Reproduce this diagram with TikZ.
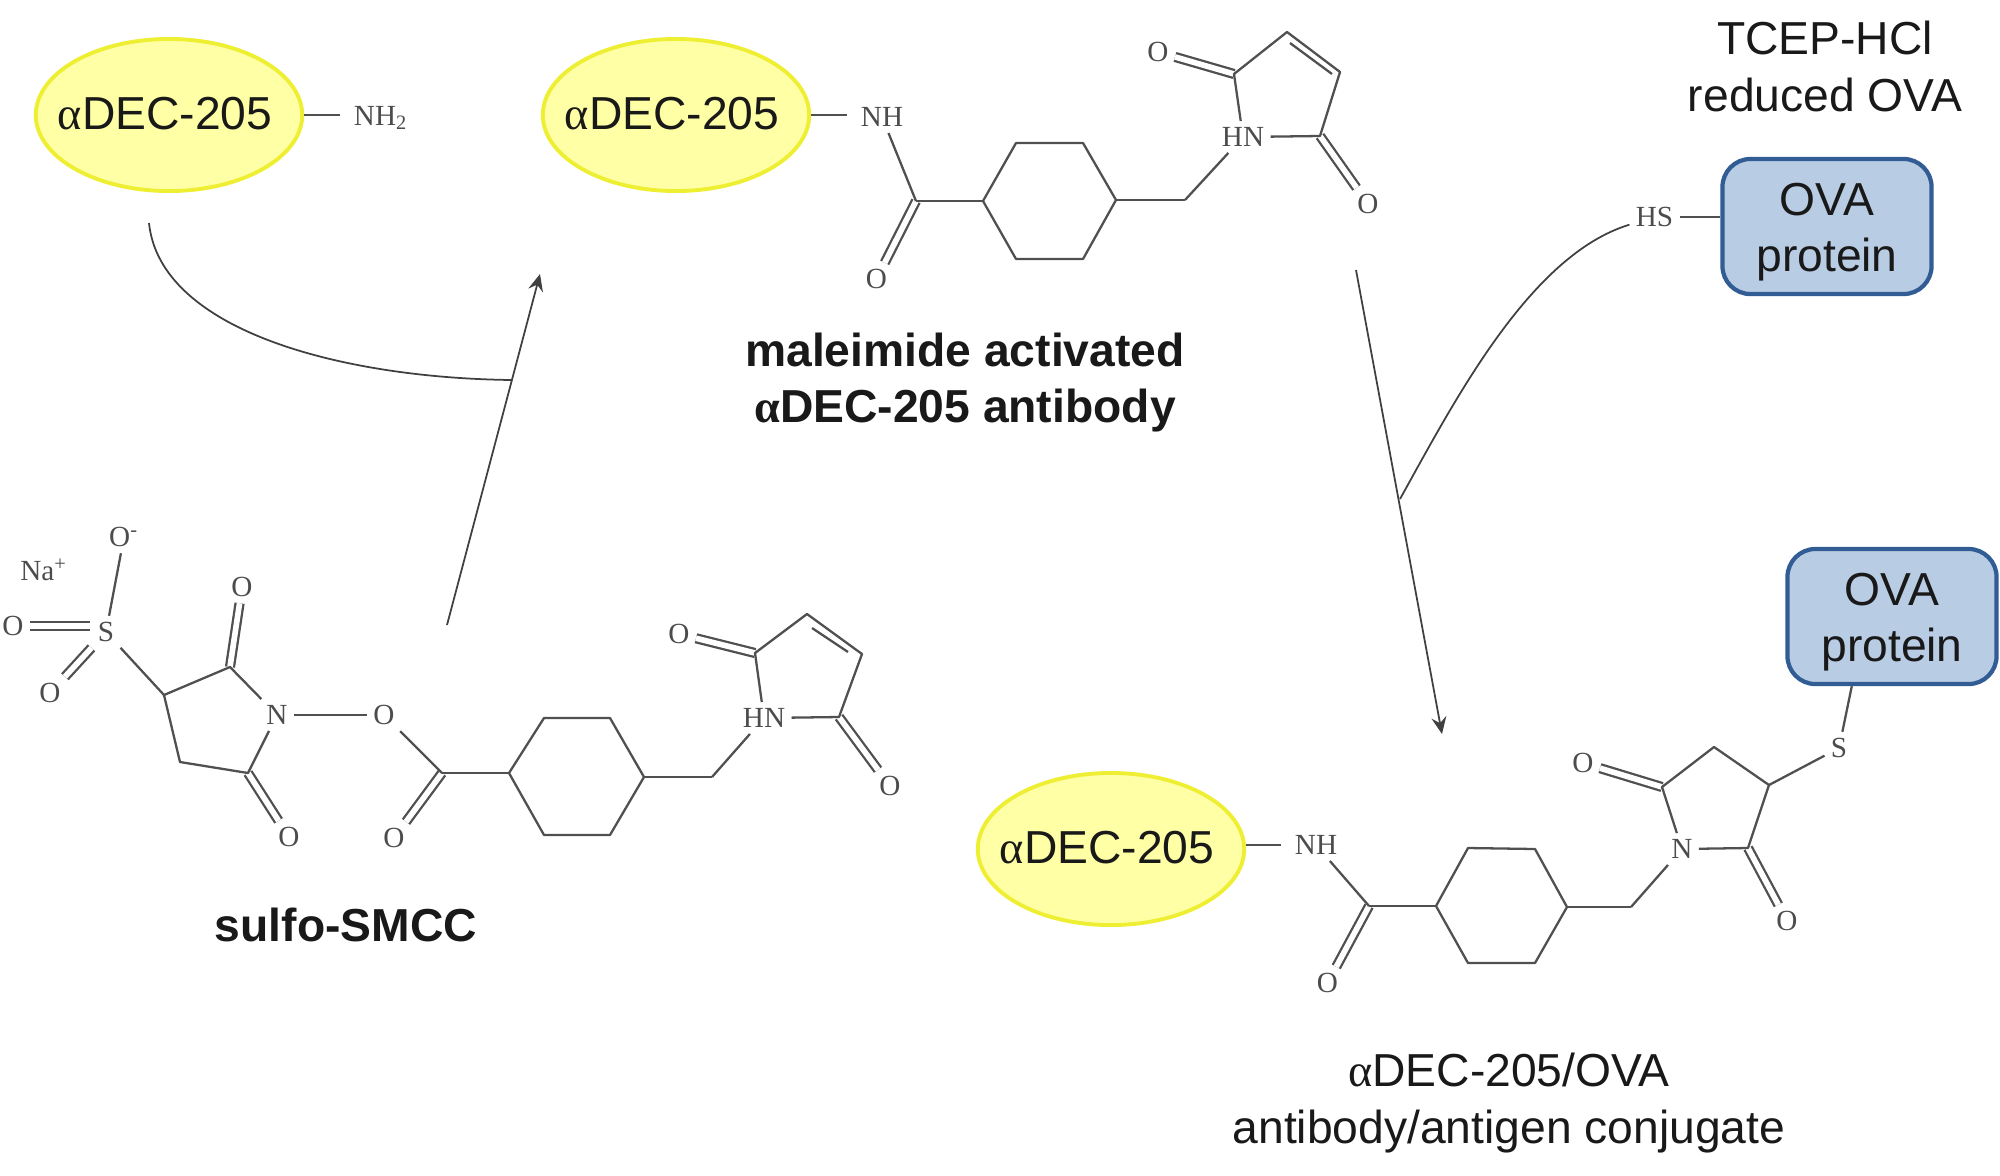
\documentclass[tikz,border=0pt]{standalone}
\usepackage{fontspec}
\setmainfont{Liberation Sans}
\newfontfamily\chemfont{Liberation Serif}
\usetikzlibrary{arrows.meta,shapes.geometric}
\definecolor{abfill}{HTML}{FFFFA6}
\definecolor{abdraw}{HTML}{EEEE33}
\definecolor{ovafill}{HTML}{B8CCE4}
\definecolor{ovadraw}{HTML}{315C94}
\definecolor{bondgray}{HTML}{505050}
\newcommand{\adec}{{\chemfont α}DEC-205}
\newcommand{\abtext}{\adec\hspace{.08cm}\rule[-.03cm]{0pt}{0pt}}
\newcommand{\ovatext}{\rule{0pt}{.43cm}OVA\\protein}
\tikzset{
	antibody/.style={ellipse,draw=abdraw,fill=abfill,line width=1.1pt,minimum width=2.66cm,minimum height=1.52cm,inner ysep=0pt,inner xsep=-.17cm,font=\fontsize{13.15}{16}\selectfont,text=black!90},
	ova/.style={rectangle,rounded corners=.28cm,draw=ovadraw,fill=ovafill,line width=1.2pt,minimum width=2.09cm,minimum height=1.35cm,inner sep=0pt,align=center,font=\fontsize{13.15}{16}\selectfont,text=black!90},
	atom/.style={inner sep=1.5pt,font=\chemfont\fontsize{8.3}{10}\selectfont,text=black!70},
	caption/.style={align=center,inner sep=0pt,font=\fontsize{13.15}{16}\selectfont,text=black!90},
	title/.style={caption,font=\bfseries\fontsize{13.15}{16}\selectfont},
	dbl/.style={double,double distance=1.6pt},
	tail/.style={shorten >=.08cm},
	react/.style={draw=black!75,line width=.5pt}
}
\begin{document}
\begin{tikzpicture}[x=.01cm,y=-.01cm,line width=.65pt,draw=bondgray,line join=round]
	\useasboundingbox (0,0) rectangle (2000,1175);

	% antibodies and proteins
	\node[antibody] (ab1) at (169,115) {\abtext};
	\node[antibody] (ab2) at (676,115) {\abtext};
	\node[antibody] (ab3) at (1111,849) {\abtext};
	\node[ova] (ova1) at (1827,226.5) {\ovatext};
	\node[ova] (ova2) at (1892,616.5) {\ovatext};

	% text
	\node[caption] (tcep) at (1825,66.5) {TCEP-HCl\\reduced OVA};
	\node[title] (smcc) at (346,925) {sulfo-SMCC};
	\node[title] (mact) at (965,382.5) {maleimide activated\\{\chemfont α}DEC-205 antibody};
	\node[caption] (conj) at (1509,1103) {\adec/OVA\\antibody/antigen conjugate};

	% top left amine
	\node[atom] (nh2) at (381,118) {NH\textsubscript{2}};
	\path (ab1) edge [tail] (nh2.west|-ab1);

	% sulfo-SMCC
	\node[atom] (smna) at (44,570) {Na\textsuperscript{+}};
	\node[atom] (smom) at (124,537) {O\textsuperscript{-}};
	\node[atom] (sms) at (106,632) {S};
	\node[atom] (smo1) at (13,626) {O};
	\node[atom] (smo2) at (50,693) {O};
	\node[atom] (smo3) at (242,587) {O};
	\node[atom] (smo4) at (289,837) {O};
	\node[atom] (smn) at (277,715) {N};
	\node[atom] (smo5) at (384,715) {O};
	\node[atom] (smo6) at (394,838) {O};
	\node[atom] (smhn) at (764,718) {HN};
	\node[atom] (smo7) at (679,634) {O};
	\node[atom] (smo8) at (890,786) {O};
	\coordinate (smsl) at (90,626);
	\coordinate (sma) at (164,695); \coordinate (smb) at (230,667);
	\coordinate (smc) at (248,773); \coordinate (smd) at (180,762);
	\coordinate (sme) at (442,773); \coordinate (smh) at (712,777);
	\coordinate (smr1) at (509,773); \coordinate (smr2) at (544,718);
	\coordinate (smr3) at (610,718); \coordinate (smr4) at (644,777);
	\coordinate (smr5) at (610,835); \coordinate (smr6) at (544,835);
	\coordinate (smf) at (755,653); \coordinate (smg) at (807,614);
	\coordinate (smi) at (862,654); \coordinate (smj) at (839,717);
	\coordinate (smk) at (812,628); \coordinate (sml) at (848,652);

	\path
	(smsl) edge [dbl] (smo1)
	(sms) edge [dbl] (smo2)
	(smb) edge [dbl] (smo3)
	(smc) edge [dbl] (smo4)
	(sme) edge [dbl] (smo6)
	(smf) edge [dbl] (smo7)
	(smj) edge [dbl] (smo8)
	(sms) edge (smom)
	(sms) edge (sma)
	(smn) edge (smo5)
	(smo5) edge (sme)
	(sme) edge (smr1)
	(smr4) edge (smh)
	(smh) edge (smhn)
	(smk) edge (sml);
	\draw (smn) -- (smc) -- (smd) -- (sma) -- (smb) -- (smn);
	\draw (smr1) -- (smr2) -- (smr3) -- (smr4) -- (smr5) -- (smr6) -- cycle;
	\draw (smhn) -- (smf) -- (smg) -- (smi) -- (smj) -- (smhn);

	% maleimide activated antibody
	\node[atom] (manh) at (882,117) {NH};
	\node[atom] (mao1) at (876.5,279) {O};
	\node[atom] (mahn) at (1243,137) {HN};
	\node[atom] (mao2) at (1158,52) {O};
	\node[atom] (mao3) at (1368,204) {O};
	\coordinate (mac) at (916,201); \coordinate (mah) at (1185,200);
	\coordinate (mar1) at (983,201); \coordinate (mar2) at (1016,143);
	\coordinate (mar3) at (1083,143); \coordinate (mar4) at (1116,200);
	\coordinate (mar5) at (1083,259); \coordinate (mar6) at (1016,259);
	\coordinate (maf) at (1234,74); \coordinate (mag) at (1287,32);
	\coordinate (mai) at (1340,72); \coordinate (maj) at (1320,136);
	\coordinate (mak) at (1290,43); \coordinate (mal) at (1332,74);

	\path
	(mac) edge [dbl] (mao1)
	(maf) edge [dbl] (mao2)
	(maj) edge [dbl] (mao3)
	(ab2) edge [tail] (manh.west|-ab2)
	(manh) edge (mac)
	(mac) edge (mar1)
	(mar4) edge (mah)
	(mah) edge (mahn)
	(mak) edge (mal);
	\draw (mar1) -- (mar2) -- (mar3) -- (mar4) -- (mar5) -- (mar6) -- cycle;
	\draw (mahn) -- (maf) -- (mag) -- (mai) -- (maj) -- (mahn);

	% conjugate
	\node[atom] (cjnh) at (1316,845) {NH};
	\node[atom] (cjo1) at (1327.5,983) {O};
	\node[atom] (cjn) at (1682,849) {N};
	\node[atom] (cjo2) at (1583,763) {O};
	\node[atom] (cjo3) at (1787,921) {O};
	\node[atom] (cjs) at (1839,748) {S};
	\coordinate (cjc) at (1369,906); \coordinate (cjh) at (1631,907);
	\coordinate (cjr1) at (1436,906); \coordinate (cjr2) at (1468,848);
	\coordinate (cjr3) at (1535,849); \coordinate (cjr4) at (1567,907);
	\coordinate (cjr5) at (1535,963); \coordinate (cjr6) at (1468,963);
	\coordinate (cjf) at (1662,787); \coordinate (cjg) at (1714,747);
	\coordinate (cji) at (1769,785); \coordinate (cjj) at (1748,848);

	\path
	(cjc) edge [dbl] (cjo1)
	(cjf) edge [dbl] (cjo2)
	(cjj) edge [dbl] (cjo3)
	(ab3.east|-cjnh) edge [tail] (cjnh.west)
	(cjnh) edge (cjc)
	(cjc) edge (cjr1)
	(cjr4) edge (cjh)
	(cjh) edge (cjn)
	(cji) edge (cjs)
	(cjs) edge (ova2.240);
	\draw (cjr1) -- (cjr2) -- (cjr3) -- (cjr4) -- (cjr5) -- (cjr6) -- cycle;
	\draw (cjn) -- (cjf) -- (cjg) -- (cji) -- (cjj) -- (cjn);

	% thiol on reduced protein
	\node[atom] (hs) at (1654.5,217) {HS};
	\path (ova1.west|-hs) edge (hs);

	% reaction arrows
	\coordinate (rs1) at (447,625);
	\coordinate (re1) at (540,274);
	\coordinate (rj1) at (512,380);
	\coordinate (ra1) at (149,223);
	\coordinate (rs2) at (1356,270);
	\coordinate (re2) at (1442,734);
	\coordinate (rj2) at (1400,499);
	\draw[react,-{Stealth[length=1.7mm,width=1.5mm,inset=.6mm]}] (rs1) -- (re1);
	\draw[react,-{Stealth[length=1.7mm,width=1.5mm,inset=.6mm]}] (rs2) -- (re2);
	\draw[react] (ra1) .. controls (160,330) and (340,378) .. (rj1);
	\draw[react] (hs) .. controls (1530,255) and (1455,400) .. (rj2);
\end{tikzpicture}
\end{document}
